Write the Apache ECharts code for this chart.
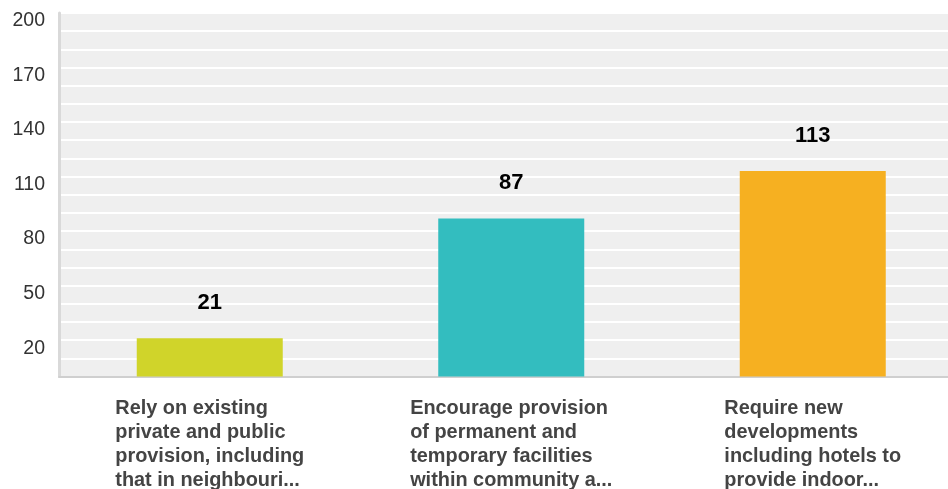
<!DOCTYPE html>
<html><head><meta charset="utf-8">
<script src="https://cdn.jsdelivr.net/npm/echarts@6/dist/echarts.min.js"></script>
<style>html,body{margin:0;padding:0;background:#fff}#c{width:948px;height:489px}</style>
</head><body><div id="c"></div>
<script>
const categories = [
  "Rely on existing\nprivate and public\nprovision, including\nthat in neighbouri...",
  "Encourage provision\nof permanent and\ntemporary facilities\nwithin community a...",
  "Require new\ndevelopments\nincluding hotels to\nprovide indoor..."
];
const values = [21, 87, 113];
const barColors = ["#d0d42a", "#33bdbf", "#f6b021"];
const yLabelTicks = [20, 50, 80, 110, 140, 170, 200];

const FONT = "'Liberation Sans', Arial, sans-serif";
const chart = echarts.init(document.getElementById('c'), null, {renderer: 'canvas'});
chart.setOption({
  animation: false,
  grid: {left: 59, top: 13, width: 904.5, height: 363.5, containLabel: false, outerBoundsMode: 'none',
         show: true, backgroundColor: '#efefef', borderWidth: 0},
  xAxis: {
    type: 'category',
    data: categories,
    axisLine: {show: true, lineStyle: {color: '#cfcfcf', width: 2}},
    axisTick: {show: false},
    axisLabel: {
      interval: 0, margin: 19.5,
      formatter: function (v) { return v.split('\n').map(function (l) { return '{a|' + l + '}'; }).join('\n'); },
      rich: {a: {align: 'left', fontFamily: FONT, fontWeight: 'bold', fontSize: 19.9, lineHeight: 24.2, color: '#444'}}
    }
  },
  yAxis: {
    type: 'value', min: 0, max: 200, interval: 10,
    axisLine: {show: true, lineStyle: {color: '#d9d9d9', width: 3}},
    axisTick: {show: false},
    splitLine: {show: true, lineStyle: {color: '#ffffff', width: 2}},
    axisLabel: {
      margin: 14, color: '#333', fontFamily: FONT, fontSize: 19.5, verticalAlign: 'top', lineHeight: 16,
      formatter: function (v) { return yLabelTicks.indexOf(v) >= 0 ? String(v) : ''; }
    }
  },
  series: [{
    type: 'bar',
    data: values.map(function (v, i) { return {value: v, itemStyle: {color: barColors[i]}}; }),
    barWidth: 146,
    label: {show: true, position: 'top', distance: 24, color: '#000', fontFamily: FONT, fontWeight: 'bold', fontSize: 22}
  }]
});
</script></body></html>
